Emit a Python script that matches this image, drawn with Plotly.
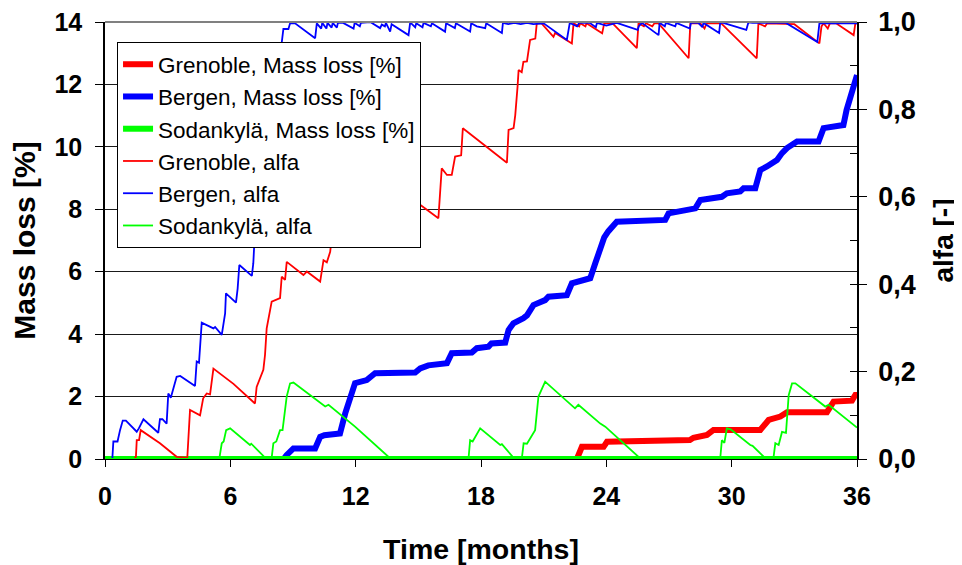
import plotly.graph_objects as go

# ---------------- data (time in months) ----------------
grenoble_ml_t = [0, 22.59, 22.83, 23.87, 24.03, 28.0, 28.17, 28.82, 29.13, 31.37, 31.77, 32.33, 32.65,
                 34.56, 34.88, 35.76, 35.92, 36]
grenoble_ml = [0, 0, 0.39, 0.39, 0.55, 0.61, 0.68, 0.77, 0.93, 0.93, 1.25, 1.36, 1.5,
               1.5, 1.84, 1.87, 2.05, 2.05]

bergen_ml_t = [0, 8.55, 8.7, 9.02, 10.06, 10.3, 10.5, 11.25, 11.5, 11.73, 11.97, 12.53, 12.93, 14.85,
               15.09, 15.48, 16.37, 16.6, 17.56, 17.8, 18.36, 18.5, 19.16, 19.32, 19.55, 20.03, 20.2,
               20.51, 21.07, 21.23, 22.11, 22.35, 23.23, 23.47, 23.71, 23.9, 24.1, 24.5, 26.82, 26.98,
               28.26, 28.5, 29.53, 29.77, 30.41, 30.57, 31.13, 31.37, 31.69, 32.17, 32.41, 32.65, 33.13,
               34.16, 34.4, 35.35, 35.5, 35.92, 36]
bergen_ml = [0, 0, 0.13, 0.34, 0.34, 0.71, 0.76, 0.82, 1.46, 1.89, 2.43, 2.53, 2.75, 2.77,
             2.9, 3.0, 3.07, 3.39, 3.41, 3.55, 3.6, 3.7, 3.73, 4.13, 4.35, 4.51, 4.6,
             4.93, 5.09, 5.2, 5.25, 5.63, 5.79, 6.27, 6.7, 7.1, 7.3, 7.6, 7.66, 7.87,
             8.03, 8.3, 8.4, 8.51, 8.57, 8.67, 8.67, 9.26, 9.37, 9.58, 9.8, 9.96, 10.17,
             10.17, 10.6, 10.7, 11.18, 12.25, 12.3]

sodankyla_ml_t = [0, 36]
sodankyla_ml = [0, 0]

grenoble_alfa_t = [0, 1.4, 1.48, 1.52, 1.63, 1.71, 2.63, 3.43, 3.94, 4.07, 4.55, 4.7, 4.87, 5.03, 5.19,
                   6.15, 7.18, 7.26, 7.58, 7.66, 7.74, 7.98, 8.38, 8.46, 8.62, 8.7, 9.5, 9.66, 10.3,
                   10.46, 10.62, 10.78, 10.86, 11.3, 12.0, 12.1, 14.0, 15.96, 16.12, 16.37, 16.6, 16.76,
                   17.05, 17.13, 19.24, 19.32, 19.56, 19.64, 19.75, 19.8, 19.95, 20.03, 20.2, 20.35,
                   20.6, 20.67, 20.9, 21.47, 21.55, 22.35, 22.43, 22.7, 22.75, 23.0, 23.05, 23.8, 23.9,
                   24.3, 25.46, 25.54, 25.8, 25.9, 26.2, 26.3, 26.5, 27.94, 28.02, 28.5, 28.7, 28.8,
                   29.5, 31.2, 31.28, 31.6, 31.7, 33.0, 34.2, 34.3, 34.4, 34.6, 34.7, 35.0, 35.84,
                   35.92, 36]
grenoble_alfa = [0, 0, 0.005, 0.043, 0.043, 0.066, 0.036, 0.005, 0.003, 0.112, 0.1, 0.139, 0.15, 0.148,
                 0.207, 0.172, 0.127, 0.165, 0.204, 0.238, 0.299, 0.36, 0.368, 0.417, 0.41, 0.451,
                 0.421, 0.429, 0.406, 0.455, 0.45, 0.474, 0.509, 0.64, 0.65, 0.69, 0.62, 0.551, 0.665,
                 0.65, 0.65, 0.692, 0.695, 0.757, 0.678, 0.753, 0.757, 0.787, 0.852, 0.89, 0.885,
                 0.909, 0.91, 0.959, 0.962, 0.997, 0.997, 0.966, 0.975, 0.951, 0.997, 0.99, 0.997,
                 0.99, 0.997, 0.974, 0.997, 0.997, 0.94, 0.997, 0.99, 0.997, 0.99, 0.997, 0.997, 0.917,
                 0.997, 0.997, 0.985, 0.997, 0.997, 0.917, 0.997, 0.99, 0.997, 0.995, 0.951, 0.99,
                 0.997, 0.985, 0.997, 0.997, 0.97, 0.997, 0.997]

bergen_alfa_t = [0, 0.35, 0.4, 0.6, 0.72, 0.85, 1.0, 1.52, 1.62, 1.84, 2.55, 2.63, 2.75, 2.95, 3.03,
                 3.15, 3.43, 3.6, 4.31, 4.39, 4.5, 4.63, 5.19, 5.27, 5.59, 5.75, 5.79, 6.27, 6.35, 6.43,
                 7.03, 7.1, 7.18, 7.8, 8.2, 8.46, 8.54, 8.78, 8.86, 9.1, 10.06, 10.14, 10.35, 10.4,
                 10.6, 10.65, 10.85, 10.9, 11.1, 11.15, 11.4, 11.9, 11.95, 12.2, 12.25, 12.7, 13.17,
                 13.25, 13.4, 13.45, 13.65, 13.72, 14.53, 14.61, 14.85, 14.9, 15.2, 15.25, 15.6, 15.65,
                 16.28, 16.33, 16.6, 16.75, 16.8, 17.48, 17.53, 17.8, 18.2, 18.25, 19.0, 19.05, 19.3,
                 19.6, 19.9, 20.2, 20.5, 21.0, 22.11, 22.18, 22.25, 22.6, 22.7, 23.2, 23.5, 23.55,
                 24.0, 24.5, 25.5, 25.55, 25.7, 26.5, 26.55, 26.8, 26.85, 27.3, 27.35, 28.0, 28.05,
                 28.4, 28.6, 28.65, 29.4, 29.45, 29.6, 30.7, 30.8, 31.0, 32.6, 34.1, 34.16, 34.2, 36]
bergen_alfa = [0, 0, 0.04, 0.04, 0.066, 0.088, 0.088, 0.0625, 0.07, 0.091, 0.06, 0.091, 0.091, 0.081,
               0.15, 0.14, 0.188, 0.19, 0.167, 0.223, 0.22, 0.312, 0.299, 0.302, 0.284, 0.333, 0.379,
               0.358, 0.39, 0.444, 0.419, 0.448, 0.524, 0.7, 0.85, 0.955, 0.984, 0.984, 0.997, 0.997,
               0.963, 0.997, 0.985, 0.998, 0.985, 0.998, 0.987, 0.998, 0.987, 0.998, 0.998, 0.985,
               0.998, 0.99, 0.998, 1.0, 0.986, 0.994, 0.99, 0.998, 0.978, 0.995, 0.97, 0.999, 0.988,
               0.997, 0.988, 0.998, 0.99, 0.997, 0.978, 0.997, 0.99, 0.986, 0.997, 0.978, 0.997,
               0.99, 0.986, 0.997, 0.975, 0.998, 0.995, 0.998, 0.995, 0.998, 0.995, 0.997, 0.959,
               0.982, 0.998, 0.99, 0.998, 0.998, 0.988, 0.998, 0.992, 0.998, 0.982, 0.99, 0.998,
               0.97, 0.998, 0.99, 0.998, 0.99, 0.998, 0.985, 0.998, 0.998, 0.988, 0.998, 0.975,
               0.998, 0.998, 0.982, 0.999, 0.998, 0.998, 0.954, 0.982, 0.997, 0.997]

sodankyla_alfa_t = [0, 5.47, 5.59, 5.68, 5.8, 5.99, 6.94, 7.0, 7.66, 7.98, 8.06, 8.2, 8.38, 8.5, 8.7,
                    8.86, 9.02, 10.54, 10.7, 11.97, 13.57, 13.6, 17.4, 17.48, 17.6, 17.96, 18.92, 19.0,
                    19.55, 19.96, 20.04, 20.2, 20.59, 20.75, 21.07, 21.23, 22.5, 22.66, 23.71, 23.95,
                    25.54, 25.6, 29.45, 29.53, 29.65, 29.77, 29.95, 30.89, 31.0, 31.61, 32.0, 32.09,
                    32.25, 32.41, 32.6, 32.73, 32.89, 33.05, 34.48, 34.64, 35.92, 36]
sodankyla_alfa = [0, 0, 0.036, 0.04, 0.066, 0.07, 0.032, 0.035, 0.003, 0.003, 0.036, 0.04, 0.066, 0.066,
                  0.143, 0.173, 0.175, 0.12, 0.124, 0.074, 0.005, 0, 0, 0.043, 0.04, 0.07, 0.032, 0.034,
                  0.003, 0.003, 0.036, 0.035, 0.066, 0.143, 0.177, 0.17, 0.116, 0.124, 0.081, 0.074,
                  0.005, 0, 0, 0.043, 0.037, 0.07, 0.068, 0.032, 0.03, 0.002, 0.002, 0.036,
                  0.032, 0.062, 0.06, 0.146, 0.173, 0.173, 0.12, 0.124, 0.074, 0.072]

x_ticks = [0, 6, 12, 18, 24, 30, 36]

RED, BLUE, GREEN = "#FF0000", "#0000FF", "#00FF00"
FONT = "Arial, 'Liberation Sans', sans-serif"

fig = go.Figure()
fig.add_trace(go.Scatter(x=grenoble_ml_t, y=grenoble_ml, mode="lines", name="Grenoble, Mass loss [%]",
                         line=dict(color=RED, width=6)))
fig.add_trace(go.Scatter(x=bergen_ml_t, y=bergen_ml, mode="lines", name="Bergen, Mass loss [%]",
                         line=dict(color=BLUE, width=6)))
fig.add_trace(go.Scatter(x=sodankyla_ml_t, y=sodankyla_ml, mode="lines", name="Sodankylä, Mass loss [%]",
                         line=dict(color=GREEN, width=6)))
fig.add_trace(go.Scatter(x=grenoble_alfa_t, y=grenoble_alfa, mode="lines", name="Grenoble, alfa",
                         line=dict(color=RED, width=1.8), yaxis="y2"))
fig.add_trace(go.Scatter(x=bergen_alfa_t, y=bergen_alfa, mode="lines", name="Bergen, alfa",
                         line=dict(color=BLUE, width=1.8), yaxis="y2"))
fig.add_trace(go.Scatter(x=sodankyla_alfa_t, y=sodankyla_alfa, mode="lines", name="Sodankylä, alfa",
                         line=dict(color=GREEN, width=1.8), yaxis="y2"))

fig.update_layout(
    width=954, height=557,
    margin=dict(l=97, r=105, t=14, b=106),
    paper_bgcolor="white", plot_bgcolor="white",
    separators=", ",
    font=dict(family=FONT, color="black"),
    showlegend=True,
    legend=dict(x=0.016, y=0.954, xanchor="left", yanchor="top",
                bgcolor="white", bordercolor="black", borderwidth=1,
                font=dict(family=FONT, size=22.5, color="black"),
                tracegroupgap=0),
    xaxis=dict(range=[0, 36], tickvals=x_ticks, ticks="outside", ticklen=7, tickcolor="black",
               showline=True, linecolor="black", linewidth=1, showgrid=False, zeroline=False,
               automargin=False, ticklabelstandoff=8, ticklabeloverflow="allow",
               tickfont=dict(family=FONT, size=25, weight="bold"),
               title=dict(text="Time [months]", font=dict(family=FONT, size=28.5, weight="bold"), standoff=33)),
    yaxis=dict(range=[0, 14], dtick=2, ticks="outside", ticklen=8, tickcolor="black",
               showline=True, linecolor="black", linewidth=1.5,
               showgrid=True, gridcolor="#1a1a1a", gridwidth=1, zeroline=False,
               automargin=False, ticklabelstandoff=8, ticklabeloverflow="allow",
               tickfont=dict(family=FONT, size=25, weight="bold"),
               title=dict(text="Mass loss [%]", font=dict(family=FONT, size=30, weight="bold"), standoff=16)),
    yaxis2=dict(range=[0, 1], dtick=0.2, tickformat=".1f", overlaying="y", side="right",
                ticks="outside", ticklen=8, tickcolor="black",
                minor=dict(dtick=0.1, ticks="inside", ticklen=7, tickcolor="black"),
                showline=True, linecolor="black", linewidth=1.5, showgrid=False, zeroline=False,
                automargin=False, ticklabelstandoff=6, ticklabeloverflow="allow",
                tickfont=dict(family=FONT, size=27, weight="bold"),
                title=dict(text="alfa [-]", font=dict(family=FONT, size=28, weight="bold"), standoff=19)),
    shapes=[dict(type="line", xref="paper", yref="paper", x0=0, x1=1, y0=1, y1=1,
                 line=dict(color="#808080", width=2), layer="above")],
)

fig.write_html("out.html")
